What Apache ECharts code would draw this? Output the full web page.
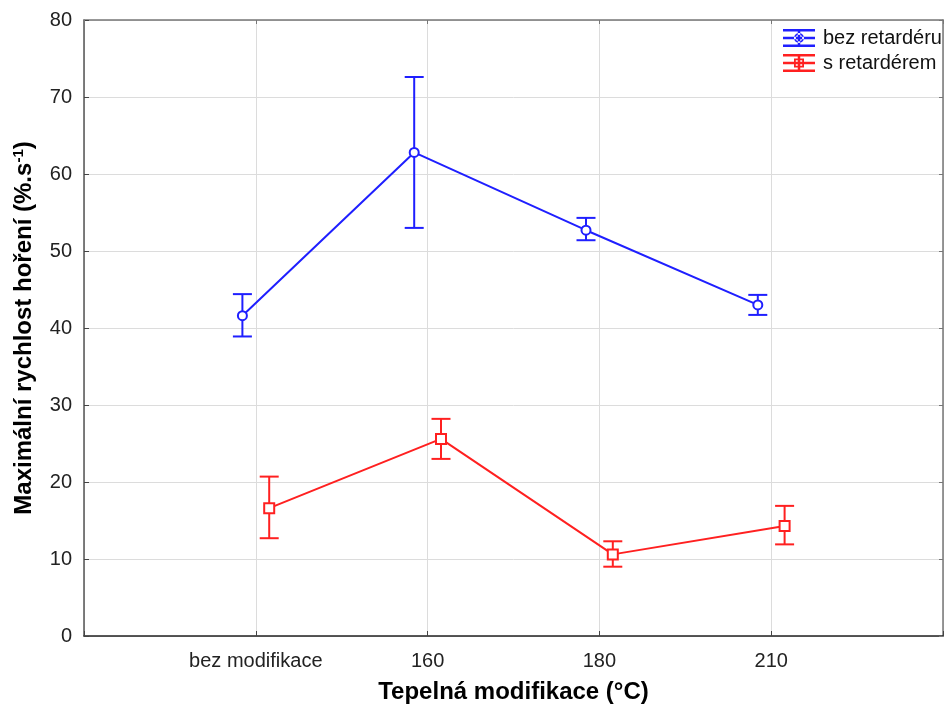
<!DOCTYPE html>
<html><head><meta charset="utf-8">
<script src="https://cdn.jsdelivr.net/npm/echarts@6/dist/echarts.min.js"></script>
<style>html,body{margin:0;padding:0;background:#fff}#c{width:946px;height:709px}</style>
</head><body><div id="c"></div>
<script>
const categories = ['bez modifikace', '160', '180', '210'];
const seriesNames = ['bez retardéru', 's retardérem'];
const blueMean = [41.6, 62.8, 52.7, 43.0];
const blueLow  = [38.9, 53.0, 51.4, 41.7];
const blueHigh = [44.4, 72.6, 54.3, 44.3];
const redMean = [16.6, 25.6, 10.6, 14.3];
const redLow  = [12.7, 23.0, 9.0, 11.9];
const redHigh = [20.7, 28.2, 12.3, 16.9];
const yTicks = [0, 10, 20, 30, 40, 50, 60, 70, 80];

const BLUE = '#1f1fff', RED = '#ff2020';
const OFF = 0.078;
const FONT = '"Liberation Sans", Arial, sans-serif';

function pts(mean, off) { return mean.map((v, i) => [i + 1 + off, v]); }
function errs(low, high, off) { return low.map((l, i) => [i + 1 + off, l, high[i]]); }

function errRender(color) {
  return function (params, api) {
    const x = api.value(0);
    const lo = api.coord([x, api.value(1)]);
    const hi = api.coord([x, api.value(2)]);
    const w = 9.5;
    const st = { stroke: color, lineWidth: 2 };
    return { type: 'group', children: [
      { type: 'line', shape: { x1: lo[0], y1: lo[1], x2: hi[0], y2: hi[1] }, style: st },
      { type: 'line', shape: { x1: lo[0] - w, y1: lo[1], x2: lo[0] + w, y2: lo[1] }, style: st },
      { type: 'line', shape: { x1: hi[0] - w, y1: hi[1], x2: hi[0] + w, y2: hi[1] }, style: st }
    ]};
  };
}

const iconBars = 'M0,0H32V2.5H0Z M0,7.75H32V10.25H0Z M0,15.5H32V18H0Z M14.75,0H17.25V18H14.75Z';
const iconCircle = 'path://' + iconBars + ' M11,9a5,5 0 1,0 10,0a5,5 0 1,0 -10,0Z M12.8,9a3.2,3.2 0 1,1 6.4,0a3.2,3.2 0 1,1 -6.4,0Z';
const iconRect = 'path://' + iconBars + ' M11,4.5H21V13.5H11Z M12.8,6.3V11.7H19.2V6.3Z';

const chart = echarts.init(document.getElementById('c'));
chart.setOption({
  animation: false,
  backgroundColor: '#fff',
  textStyle: { fontFamily: FONT },
  grid: { left: 84, right: 2, top: 20, bottom: 73, containLabel: false },
  legend: {
    orient: 'vertical', left: 778, top: 23, itemWidth: 32, itemHeight: 18, itemGap: 5,
    textStyle: { fontSize: 20, color: '#111', fontFamily: FONT, padding: [0, 0, 0, 3] },
    data: [
      { name: seriesNames[0], icon: iconCircle, itemStyle: { color: BLUE, borderWidth: 0 } },
      { name: seriesNames[1], icon: iconRect, itemStyle: { color: RED, borderWidth: 0 } }
    ]
  },
  xAxis: [{
    type: 'value', min: 0, max: 5, interval: 1, position: 'bottom',
    name: 'Tepelná modifikace (°C)', nameLocation: 'middle', nameGap: 44,
    nameTextStyle: { fontSize: 24, fontWeight: 'bold', color: '#000', fontFamily: FONT },
    axisLine: { show: true, onZero: false, lineStyle: { color: '#222', width: 1.5 } },
    axisTick: { show: true, inside: true, length: 5, lineStyle: { color: '#444' } },
    axisLabel: { fontSize: 20, color: '#222', margin: 15, formatter: v => (v >= 1 && v <= 4 ? categories[v - 1] : '') },
    splitLine: { show: true, lineStyle: { color: '#dcdcdc', width: 1 } }
  }, {
    type: 'value', min: 0, max: 5, interval: 1, position: 'top',
    axisLine: { show: true, onZero: false, lineStyle: { color: '#777', width: 1.5 } },
    axisTick: { show: true, inside: true, length: 4, lineStyle: { color: '#777' } },
    axisLabel: { show: false }, splitLine: { show: false }
  }],
  yAxis: [{
    type: 'value', min: 0, max: 80, interval: 10, position: 'left',
    name: '{t|Maximální rychlost hoření (%.s}{s|-1}{t|)}', nameLocation: 'middle', nameGap: 46, nameRotate: 90,
    nameTextStyle: { rich: {
      t: { fontSize: 24, fontWeight: 'bold', color: '#000', fontFamily: FONT },
      s: { fontSize: 15, fontWeight: 'bold', color: '#000', fontFamily: FONT, verticalAlign: 'top', padding: [0, 0, 12, 0] }
    } },
    axisLine: { show: true, onZero: false, lineStyle: { color: '#555', width: 1.5 } },
    axisTick: { show: true, inside: true, length: 5, lineStyle: { color: '#444' } },
    axisLabel: { fontSize: 20, color: '#222', margin: 12, formatter: v => (yTicks.includes(v) ? String(v) : '') },
    splitLine: { show: true, lineStyle: { color: '#dcdcdc', width: 1 } }
  }, {
    type: 'value', min: 0, max: 80, interval: 10, position: 'right',
    axisLine: { show: true, onZero: false, lineStyle: { color: '#777', width: 1.5 } },
    axisTick: { show: true, inside: true, length: 4, lineStyle: { color: '#777' } },
    axisLabel: { show: false }, splitLine: { show: false }
  }],
  series: [
    { name: seriesNames[0], type: 'custom', renderItem: errRender(BLUE), data: errs(blueLow, blueHigh, -OFF),
      encode: { x: 0, y: [1, 2] }, itemStyle: { color: BLUE }, z: 2 },
    { name: seriesNames[1], type: 'custom', renderItem: errRender(RED), data: errs(redLow, redHigh, OFF),
      encode: { x: 0, y: [1, 2] }, itemStyle: { color: RED }, z: 2 },
    { name: seriesNames[0], type: 'line', data: pts(blueMean, -OFF), color: BLUE,
      symbol: 'emptyCircle', symbolSize: 9, lineStyle: { color: BLUE, width: 2 },
      itemStyle: { color: BLUE, borderColor: BLUE, borderWidth: 1.5 }, z: 3 },
    { name: seriesNames[1], type: 'line', data: pts(redMean, OFF), color: RED,
      symbol: 'emptyRect', symbolSize: 10, lineStyle: { color: RED, width: 2 },
      itemStyle: { color: RED, borderColor: RED, borderWidth: 1.5 }, z: 3 }
  ]
});
</script></body></html>
